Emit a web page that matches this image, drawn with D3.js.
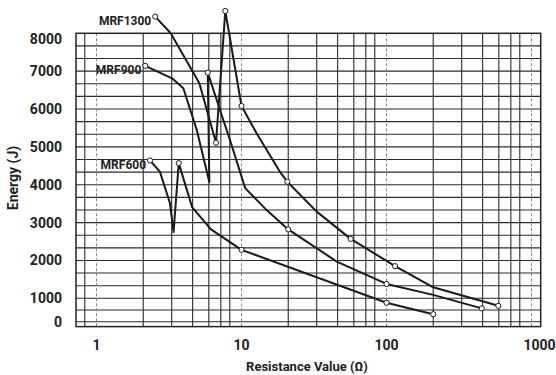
<!DOCTYPE html>
<html>
<head>
<meta charset="utf-8">
<script src="https://cdn.jsdelivr.net/npm/d3@7"></script>
<style>
  body { margin: 0; background: #fff; }
  text { font-family: Roboto, "Liberation Sans", sans-serif; font-weight: 700; fill: #222; }
</style>
</head>
<body>
<div id="chart"></div>
<script>
// series (resistance in ohm, energy in J)
var seriesNames = ["MRF1300", "MRF900", "MRF600"];

var mrf1300R = [2.54, 3.25, 5.12, 6.67, 7.73, 10, 12.7, 18.4, 20.7, 33, 56.6, 114.5, 210, 590];
var mrf1300E = [8440, 8000, 6680, 5110, 8590, 6080, 5360, 4340, 4080, 3290, 2570, 1850, 1290, 680];
var mrf1300Mark = [1, 0, 0, 1, 1, 1, 0, 0, 1, 0, 1, 1, 0, 1];

var mrf900R = [2.17, 3.32, 3.97, 4.91, 6.0, 5.85, 7.49, 8.33, 10.6, 14.9, 21, 45.4, 100, 210, 454];
var mrf900E = [7140, 6810, 6550, 5450, 4070, 6960, 5710, 5180, 3910, 3330, 2820, 1970, 1380, 1090, 570];
var mrf900Mark = [1, 0, 0, 0, 0, 1, 0, 0, 0, 0, 1, 0, 1, 0, 1];

var mrf600R = [2.34, 2.74, 3.21, 3.40, 3.69, 4.56, 6.16, 10, 100, 210];
var mrf600E = [4640, 4340, 3510, 2750, 4570, 3410, 2820, 2280, 810, 320];
var mrf600Mark = [1, 0, 0, 0, 1, 0, 0, 1, 1, 1];

// axis ticks and grid
var xTickValues = [1, 10, 100, 1000];
var xTickLabels = ["1", "10", "100", "1000"];
var xGridValues = [0.83, 2.1, 3.3, 4.6, 5.95, 7.2, 8.3, 21, 33, 46, 59.5, 72, 83, 210, 330, 460, 595, 720, 830];
var yTickValues = [0, 1000, 2000, 3000, 4000, 5000, 6000, 7000, 8000];
var yGridValues = [0, 500, 1000, 1333, 1667, 2000, 2333, 2667, 3000, 3333, 3667, 4000, 4333, 4667,
                   5000, 5333, 5667, 6000, 6333, 6667, 7000, 7333, 7667];

var W = 556, H = 375;
var svg = d3.select("#chart").append("svg")
  .attr("width", W)
  .attr("height", H);

var x = d3.scaleLog()
  .domain([0.722, 1157])
  .range([76, 540.7]);

// the energy axis is squeezed below 1000 J
var y = d3.scaleLinear()
  .domain([0, 1000, 8000])
  .range([321.7, 298.3, 33.3]);

var yBottom = -210;

var grid = svg.append("g");

grid.selectAll(".hgrid")
  .data(yGridValues)
  .enter()
  .append("line")
  .attr("x1", x.range()[0]).attr("x2", x.range()[1])
  .attr("y1", d => y(d)).attr("y2", d => y(d))
  .attr("stroke", "#2b2b2b")
  .attr("stroke-width", 1.1);

grid.selectAll(".vgrid")
  .data(xGridValues)
  .enter()
  .append("line")
  .attr("x1", d => x(d)).attr("x2", d => x(d))
  .attr("y1", y(8000)).attr("y2", y(yBottom))
  .attr("stroke", "#2b2b2b")
  .attr("stroke-width", 1.1);

grid.selectAll(".dgrid")
  .data(xTickValues)
  .enter()
  .append("line")
  .attr("x1", d => x(d)).attr("x2", d => x(d))
  .attr("y1", y(8000)).attr("y2", y(yBottom))
  .attr("stroke", "#888")
  .attr("stroke-width", 1)
  .attr("stroke-dasharray", "3,2");

// frame
svg.append("rect")
  .attr("x", x.range()[0])
  .attr("y", y(8000))
  .attr("width", x.range()[1] - x.range()[0])
  .attr("height", y(yBottom) - y(8000))
  .attr("fill", "none")
  .attr("stroke", "#222")
  .attr("stroke-width", 1.5);

// tick labels
svg.selectAll(".ylab")
  .data(yTickValues)
  .enter()
  .append("text")
  .attr("x", 62)
  .attr("y", d => Math.max(y(d), y(8000) + 6))
  .attr("dy", "0.36em")
  .attr("text-anchor", "end")
  .style("font-size", "14px")
  .text(d => d);

svg.selectAll(".xlab")
  .data(xTickValues)
  .enter()
  .append("text")
  .attr("x", (d, i) => x(d) + (i == 3 ? 8 : 0))
  .attr("y", 345)
  .attr("dy", "0.36em")
  .attr("text-anchor", "middle")
  .style("font-size", "14px")
  .text((d, i) => xTickLabels[i]);

// axis titles
svg.append("text")
  .attr("transform", "translate(18,178) rotate(-90)")
  .attr("text-anchor", "middle")
  .style("font-size", "14px")
  .text("Energy (J)");

svg.append("text")
  .attr("x", 307)
  .attr("y", 371)
  .attr("text-anchor", "middle")
  .style("font-size", "13px")
  .text("Resistance Value (\u03A9)");

// curves
var seriesR = [mrf1300R, mrf900R, mrf600R];
var seriesE = [mrf1300E, mrf900E, mrf600E];
var seriesMark = [mrf1300Mark, mrf900Mark, mrf600Mark];

var line = d3.line()
  .x(d => x(d[0]))
  .y(d => y(d[1]));

seriesNames.forEach(function(name, s) {
  var pts = seriesR[s].map((r, i) => [r, seriesE[s][i], seriesMark[s][i]]);

  svg.append("path")
    .datum(pts)
    .attr("d", line)
    .attr("fill", "none")
    .attr("stroke", "#1a1a1a")
    .attr("stroke-width", 2)
    .attr("stroke-linejoin", "round");

  svg.selectAll(".m" + s)
    .data(pts.filter(d => d[2]))
    .enter()
    .append("circle")
    .attr("cx", d => x(d[0]))
    .attr("cy", d => y(d[1]))
    .attr("r", 2.6)
    .attr("fill", "#fff")
    .attr("stroke", "#1a1a1a")
    .attr("stroke-width", 1);

  svg.append("text")
    .attr("x", x(pts[0][0]) - 4)
    .attr("y", y(pts[0][1]) + 4)
    .attr("dy", "0.36em")
    .attr("text-anchor", "end")
    .style("font-size", "12px")
    .text(name);
});
</script>
</body>
</html>
